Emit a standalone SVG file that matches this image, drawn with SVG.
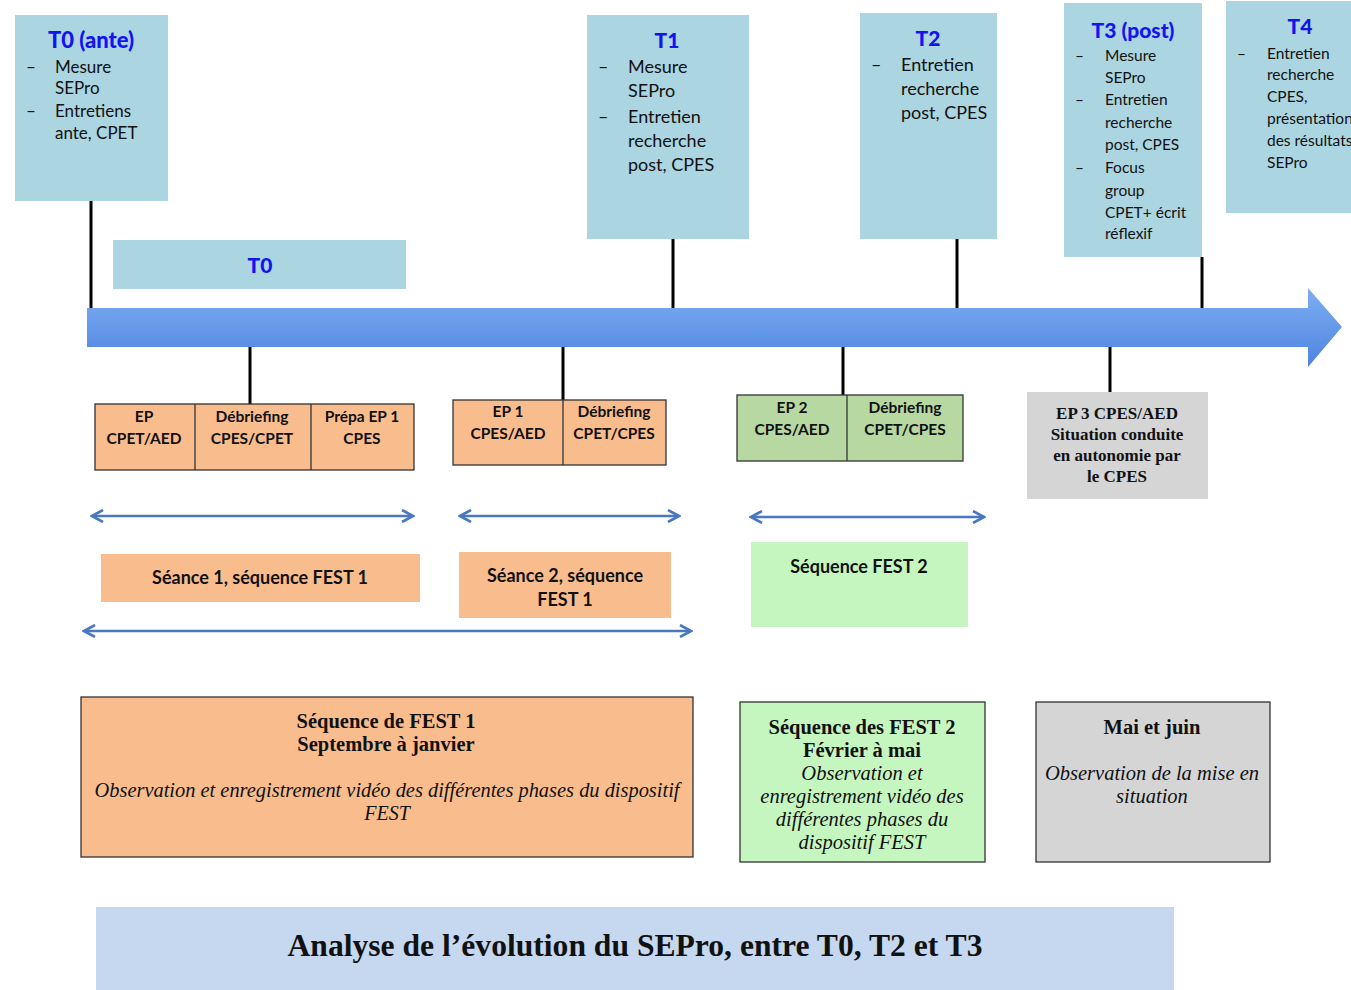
<svg xmlns="http://www.w3.org/2000/svg" width="1351" height="990" viewBox="0 0 1351 990">
<defs>
<linearGradient id="gArrow" x1="0" y1="0" x2="0" y2="1">
<stop offset="0" stop-color="#7eaef2"/>
<stop offset="1" stop-color="#4d84df"/>
</linearGradient>
<marker id="chev" viewBox="0 0 14 14" refX="12" refY="7" markerWidth="14" markerHeight="14" markerUnits="userSpaceOnUse" orient="auto-start-reverse">
<path d="M1,1 L12,7 L1,13" fill="none" stroke="#4a78c0" stroke-width="2.6" stroke-linejoin="miter"/>
</marker>
</defs>
<style>
.tbox{fill:#abd5e1}
.ttl{font-family:Lato,"Noto Sans",sans-serif;font-weight:900;fill:#1414f0;text-anchor:middle}
.it{font-family:Lato,"Noto Sans",sans-serif;fill:#111}
.tick{stroke:#000;stroke-width:3}
.org{fill:#f9bd8d;stroke:#333;stroke-width:1.3}
.orgS{fill:#f9bd8d}
.grn{fill:#b8d8a2;stroke:#333;stroke-width:1.3}
.lgrn{fill:#c6f6c0}
.gry{fill:#d5d5d5}
.bx{stroke:#333;stroke-width:1.3}
.cb{font-family:Lato,"Noto Sans",sans-serif;font-weight:bold;font-size:15.5px;fill:#111;text-anchor:middle}
.cl{font-family:Lato,"Noto Sans",sans-serif;font-weight:bold;font-size:18px;fill:#111;text-anchor:middle}
.sb{font-family:"Liberation Serif",serif;font-weight:bold;fill:#111;text-anchor:middle}
.si{font-family:"Liberation Serif",serif;font-style:italic;fill:#111;text-anchor:middle}
.darr{stroke:#4a78c0;stroke-width:2.6;fill:none;marker-start:url(#chev);marker-end:url(#chev)}
</style>
<rect width="1351" height="990" fill="#fff"/>

<g id="connectors">
<path d="M87,308 H1308 V288 L1342,327 L1308,367 V347 H87 Z" fill="url(#gArrow)"/>
<line class="tick" x1="91" y1="201" x2="91" y2="308"/>
<line class="tick" x1="673" y1="239" x2="673" y2="308"/>
<line class="tick" x1="957" y1="239" x2="957" y2="308"/>
<line class="tick" x1="1202" y1="257" x2="1202" y2="308"/>
<line class="tick" x1="250" y1="347" x2="250" y2="404"/>
<line class="tick" x1="563" y1="347" x2="563" y2="400"/>
<line class="tick" x1="843" y1="347" x2="843" y2="395"/>
<line class="tick" x1="1110" y1="347" x2="1110" y2="392"/>
<line class="darr" x1="92" y1="516" x2="413" y2="516"/>
<line class="darr" x1="460" y1="516" x2="679" y2="516"/>
<line class="darr" x1="751" y1="517" x2="984" y2="517"/>
<line class="darr" x1="84" y1="631" x2="691" y2="631"/>
</g>

<g id="t0ante">
<rect class="tbox" x="15" y="15" width="153" height="186"/>
<text class="ttl" x="91" y="48" font-size="22">T0 (ante)</text>
<g class="it" font-size="17">
<text x="26" y="73">–</text><text x="55" y="73">Mesure</text>
<text x="55" y="94">SEPro</text>
<text x="26" y="117">–</text><text x="55" y="117">Entretiens</text>
<text x="55" y="139">ante, CPET</text>
</g>
</g>

<g id="t0bar">
<rect class="tbox" x="113" y="240" width="293" height="49"/>
<text class="ttl" x="260" y="273" font-size="21">T0</text>
</g>

<g id="t1">
<rect class="tbox" x="587" y="15" width="162" height="224"/>
<text class="ttl" x="667" y="48" font-size="21">T1</text>
<g class="it" font-size="18">
<text x="598" y="73">–</text><text x="628" y="73">Mesure</text>
<text x="628" y="97">SEPro</text>
<text x="598" y="123">–</text><text x="628" y="123">Entretien</text>
<text x="628" y="147">recherche</text>
<text x="628" y="171">post, CPES</text>
</g>
</g>

<g id="t2">
<rect class="tbox" x="860" y="13" width="137" height="226"/>
<text class="ttl" x="928" y="46" font-size="21">T2</text>
<g class="it" font-size="18">
<text x="871" y="71">–</text><text x="901" y="71">Entretien</text>
<text x="901" y="95">recherche</text>
<text x="901" y="119">post, CPES</text>
</g>
</g>

<g id="t3post">
<rect class="tbox" x="1064" y="3" width="138" height="254"/>
<text class="ttl" x="1133" y="38" font-size="21">T3 (post)</text>
<g class="it" font-size="15.5">
<text x="1075" y="61">–</text><text x="1105" y="61">Mesure</text>
<text x="1105" y="83">SEPro</text>
<text x="1075" y="105">–</text><text x="1105" y="105">Entretien</text>
<text x="1105" y="128">recherche</text>
<text x="1105" y="150">post, CPES</text>
<text x="1075" y="173">–</text><text x="1105" y="173">Focus</text>
<text x="1105" y="196">group</text>
<text x="1105" y="218">CPET+ écrit</text>
<text x="1105" y="239">réflexif</text>
</g>
</g>

<g id="t4">
<rect class="tbox" x="1226" y="1" width="130" height="212"/>
<text class="ttl" x="1300" y="34" font-size="21">T4</text>
<g class="it" font-size="15.5">
<text x="1237" y="59">–</text><text x="1267" y="59">Entretien</text>
<text x="1267" y="80">recherche</text>
<text x="1267" y="102">CPES,</text>
<text x="1267" y="124">présentation</text>
<text x="1267" y="146">des résultats</text>
<text x="1267" y="168">SEPro</text>
</g>
</g>

<g id="seance1-steps">
<rect class="org" x="95" y="404" width="319" height="66"/>
<line class="bx" x1="195" y1="404" x2="195" y2="470"/>
<line class="bx" x1="311" y1="404" x2="311" y2="470"/>
<text class="cb" x="144" y="422">EP</text>
<text class="cb" x="144" y="444">CPET/AED</text>
<text class="cb" x="252" y="422">Débriefing</text>
<text class="cb" x="252" y="444">CPES/CPET</text>
<text class="cb" x="362" y="422">Prépa EP 1</text>
<text class="cb" x="362" y="444">CPES</text>
</g>

<g id="seance2-steps">
<rect class="org" x="453" y="400" width="213" height="65"/>
<line class="bx" x1="563" y1="400" x2="563" y2="465"/>
<text class="cb" x="508" y="417">EP 1</text>
<text class="cb" x="508" y="439">CPES/AED</text>
<text class="cb" x="614" y="417">Débriefing</text>
<text class="cb" x="614" y="439">CPET/CPES</text>
</g>

<g id="fest2-steps">
<rect class="grn" x="737" y="395" width="226" height="66"/>
<line class="bx" x1="847" y1="395" x2="847" y2="461"/>
<text class="cb" x="792" y="413">EP 2</text>
<text class="cb" x="792" y="435">CPES/AED</text>
<text class="cb" x="905" y="413">Débriefing</text>
<text class="cb" x="905" y="435">CPET/CPES</text>
</g>

<g id="ep3">
<rect class="gry" x="1027" y="392" width="181" height="107"/>
<g class="sb" font-size="17">
<text x="1117" y="419">EP 3 CPES/AED</text>
<text x="1117" y="440">Situation conduite</text>
<text x="1117" y="461">en autonomie par</text>
<text x="1117" y="482">le CPES</text>
</g>
</g>

<g id="seance1">
<rect class="orgS" x="101" y="554" width="319" height="48"/>
<text class="cl" x="260" y="584">Séance 1, séquence FEST 1</text>
</g>

<g id="seance2">
<rect class="orgS" x="459" y="552" width="212" height="66"/>
<text class="cl" x="565" y="582">Séance 2, séquence</text>
<text class="cl" x="565" y="606">FEST 1</text>
</g>

<g id="sequence-fest2">
<rect class="lgrn" x="751" y="542" width="217" height="85"/>
<text class="cl" x="859" y="573">Séquence FEST 2</text>
</g>

<g id="fest1-summary">
<rect class="orgS bx" x="81" y="697" width="612" height="160"/>
<text class="sb" x="386" y="728" font-size="20.5">Séquence de FEST 1</text>
<text class="sb" x="386" y="751" font-size="20.5">Septembre à janvier</text>
<text class="si" x="387" y="797" font-size="20" textLength="585" lengthAdjust="spacingAndGlyphs">Observation et enregistrement vidéo des différentes phases du dispositif</text>
<text class="si" x="387" y="820" font-size="20">FEST</text>
</g>

<g id="fest2-summary">
<rect class="lgrn bx" x="740" y="702" width="245" height="160"/>
<text class="sb" x="862" y="734" font-size="20.5">Séquence des FEST 2</text>
<text class="sb" x="862" y="757" font-size="20.5">Février à mai</text>
<text class="si" x="862" y="780" font-size="20.5">Observation et</text>
<text class="si" x="862" y="803" font-size="20.5">enregistrement vidéo des</text>
<text class="si" x="862" y="826" font-size="20.5">différentes phases du</text>
<text class="si" x="862" y="849" font-size="20.5">dispositif FEST</text>
</g>

<g id="maijuin-summary">
<rect class="gry bx" x="1036" y="702" width="234" height="160"/>
<text class="sb" x="1152" y="734" font-size="20.5">Mai et juin</text>
<text class="si" x="1152" y="780" font-size="20.5">Observation de la mise en</text>
<text class="si" x="1152" y="803" font-size="20.5">situation</text>
</g>

<g id="analyse">
<rect x="96" y="907" width="1078" height="83" fill="#c5d8ef"/>
<text class="sb" x="635" y="956" font-size="31" textLength="695" lengthAdjust="spacingAndGlyphs">Analyse de l’évolution du SEPro, entre T0, T2 et T3</text>
</g>
</svg>
